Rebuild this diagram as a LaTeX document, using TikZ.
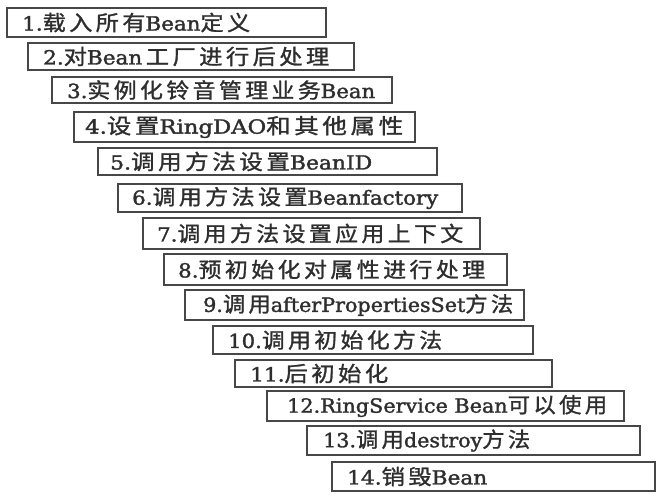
\documentclass[tikz,border=0pt]{standalone}
\usepackage{graphicx}
\usepackage{fontspec}
\setmainfont{DejaVu Serif}[FakeBold=1.6]
\newfontfamily\cjkfont{Noto Sans CJK SC}[LetterSpace=15, FakeBold=1.2]
\newcommand\C[1]{{\cjkfont\fontsize{21}{24}\selectfont #1}}
\tikzset{
  stepbox/.style={draw=black!72, line width=1.7pt, fill=white, inner sep=0pt, outer sep=0pt, anchor=north west},
  steptext/.style={anchor=west, inner sep=0pt, text=black!82, font=\fontsize{19.5}{24}\selectfont}
}
% #1 left, #2 top, #3 right, #4 bottom, #5 text start, #6 text end, #7 name, #8 text
\newcommand\bx[8]{%
  \pgfmathsetmacro\bxW{#3-#1}%
  \pgfmathsetmacro\bxH{#4-#2}%
  \pgfmathsetmacro\bxP{#5-#1}%
  \pgfmathsetmacro\bxT{#6-#5}%
  \node[stepbox, minimum width=\bxW pt, minimum height=\bxH pt] (b#7) at (#1pt,-#2pt) {};
  \node[steptext] (t#7) at ([xshift=\bxP pt]b#7.west) {\resizebox{\bxT pt}{\height}{#8}};
}
\begin{document}
\begin{tikzpicture}
\useasboundingbox[fill=white] (0,0) rectangle (656pt,-495pt);
\bx{7}{8}{326}{37}{22}{250}{1}{1.\C{载入所有}Bean\C{定义}}
\bx{28}{43}{354}{70}{43}{329}{2}{2.\C{对}Bean\,\C{工厂进行后处理}}
\bx{52}{77}{392}{103}{67}{375}{3}{3.\C{实例化铃音管理业务}Bean}
\bx{74}{112}{415}{142}{85}{403}{4}{4.\C{设置}RingDAO\C{和其他属性}}
\bx{98}{148}{437}{175}{110}{372}{5}{5.\C{调用方法设置}BeanID}
\bx{118}{184}{462}{212}{132}{438}{6}{6.\C{调用方法设置}Beanfactory}
\bx{143}{218}{480}{249}{157}{463}{7}{7.\C{调用方法设置应用上下文}}
\bx{164}{254}{507}{285}{178}{485}{8}{8.\C{预初始化对属性进行处理}}
\bx{185}{290}{524}{320}{203}{513}{9}{9.\C{调用}afterPropertiesSet\C{方法}}
\bx{213}{326}{533}{354}{228}{442}{10}{10.\C{调用初始化方法}}
\bx{235}{360}{552}{387}{250}{388}{11}{11.\C{后初始化}}
\bx{267}{391}{624}{421}{287}{607}{12}{12.RingService Bean\C{可以使用}}
\bx{307}{426}{640}{455}{323}{530}{13}{13.\C{调用}destroy\C{方法}}
\bx{332}{462}{655}{491}{347}{487}{14}{14.\C{销毁}Bean}
\end{tikzpicture}
\end{document}
